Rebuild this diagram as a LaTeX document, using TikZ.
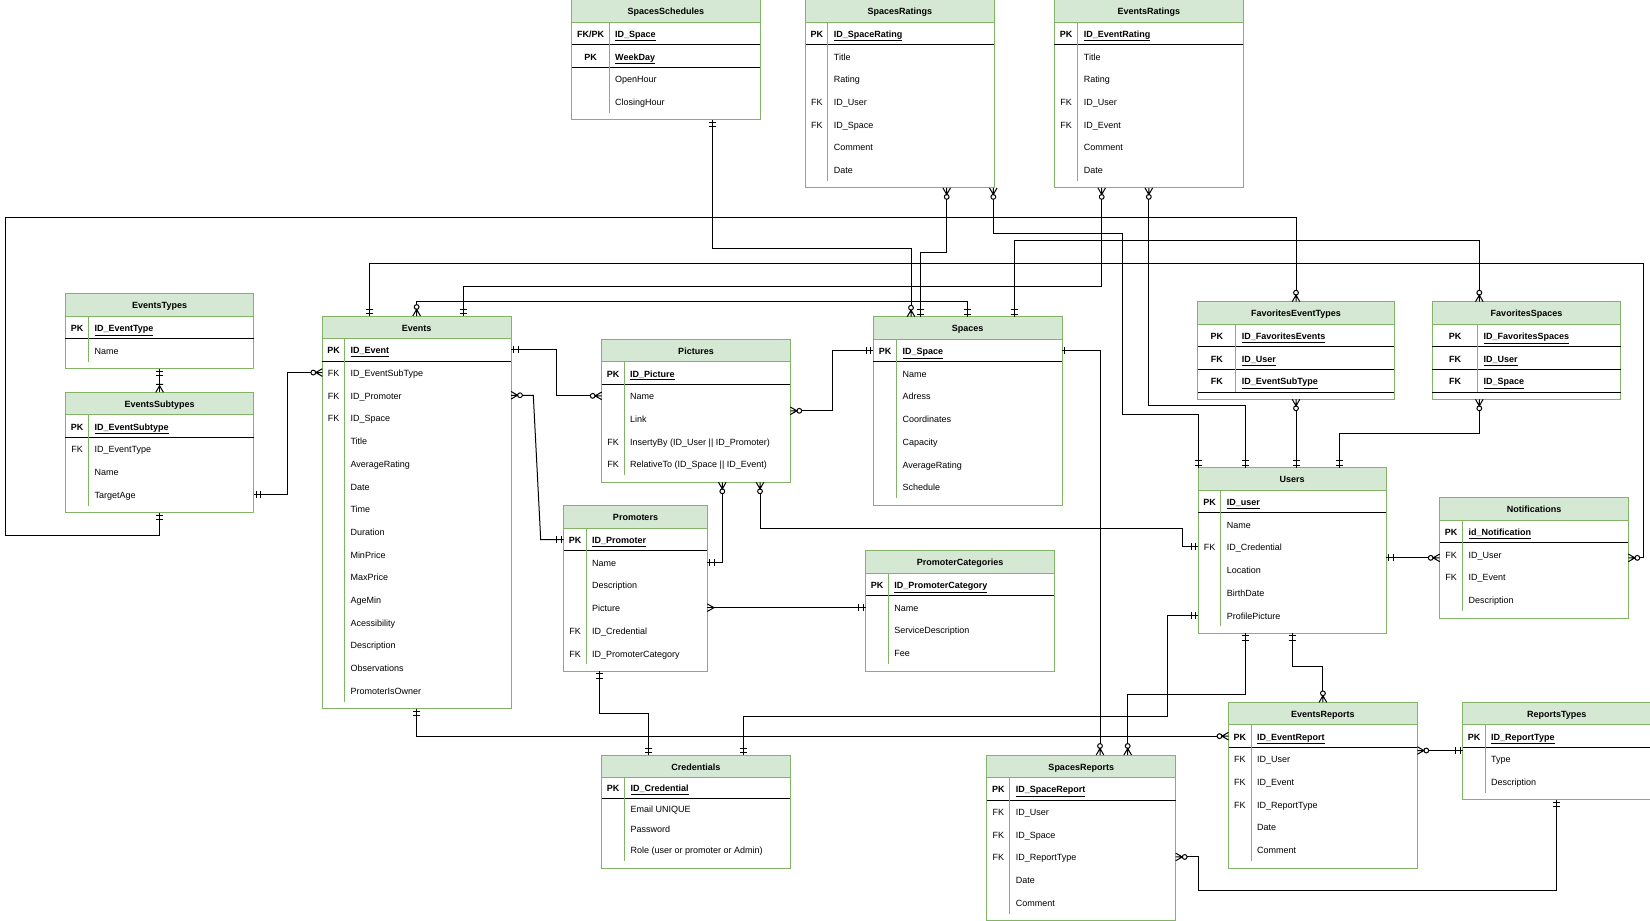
\documentclass[tikz,border=0pt]{standalone}
\usepackage{fontspec}
\setmainfont{Liberation Sans}

\definecolor{ergreen}{HTML}{82B366}
\definecolor{erfill}{HTML}{D5E8D4}

\pgfdeclarearrow{
	name = ERmand,
	parameters = {\the\pgflinewidth},
	setup code = {
		\pgfarrowssettipend{0pt}
		\pgfarrowssetlineend{0pt}
		\pgfarrowssetbackend{-8pt}
		\pgfarrowshullpoint{0pt}{4pt}
		\pgfarrowshullpoint{0pt}{-4pt}
		\pgfarrowshullpoint{-8pt}{4pt}
		\pgfarrowshullpoint{-8pt}{-4pt}
	},
	drawing code = {
		\pgfpathmoveto{\pgfqpoint{-2.5pt}{3.5pt}}
		\pgfpathlineto{\pgfqpoint{-2.5pt}{-3.5pt}}
		\pgfpathmoveto{\pgfqpoint{-7pt}{3.5pt}}
		\pgfpathlineto{\pgfqpoint{-7pt}{-3.5pt}}
		\pgfusepathqstroke
	}
}
\pgfdeclarearrow{
	name = ERone,
	parameters = {\the\pgflinewidth},
	setup code = {
		\pgfarrowssettipend{0pt}
		\pgfarrowssetlineend{0pt}
		\pgfarrowssetbackend{-4pt}
		\pgfarrowshullpoint{0pt}{4pt}
		\pgfarrowshullpoint{0pt}{-4pt}
		\pgfarrowshullpoint{-4pt}{4pt}
		\pgfarrowshullpoint{-4pt}{-4pt}
	},
	drawing code = {
		\pgfpathmoveto{\pgfqpoint{-2.2pt}{3.5pt}}
		\pgfpathlineto{\pgfqpoint{-2.2pt}{-3.5pt}}
		\pgfusepathqstroke
	}
}
\pgfdeclarearrow{
	name = ERzmany,
	parameters = {\the\pgflinewidth},
	setup code = {
		\pgfarrowssettipend{0pt}
		\pgfarrowssetlineend{-11.4pt}
		\pgfarrowssetbackend{-11.5pt}
		\pgfarrowshullpoint{0pt}{4pt}
		\pgfarrowshullpoint{0pt}{-4pt}
		\pgfarrowshullpoint{-11.5pt}{3pt}
		\pgfarrowshullpoint{-11.5pt}{-3pt}
	},
	drawing code = {
		\pgfpathmoveto{\pgfqpoint{0pt}{3.8pt}}
		\pgfpathlineto{\pgfqpoint{-6.6pt}{0pt}}
		\pgfpathlineto{\pgfqpoint{0pt}{-3.8pt}}
		\pgfpathmoveto{\pgfqpoint{0pt}{0pt}}
		\pgfpathlineto{\pgfqpoint{-6.6pt}{0pt}}
		\pgfpathcircle{\pgfqpoint{-9pt}{0pt}}{2.4pt}
		\pgfusepathqstroke
	}
}
\pgfdeclarearrow{
	name = ERmany,
	parameters = {\the\pgflinewidth},
	setup code = {
		\pgfarrowssettipend{0pt}
		\pgfarrowssetlineend{0pt}
		\pgfarrowssetbackend{-7pt}
		\pgfarrowshullpoint{0pt}{4pt}
		\pgfarrowshullpoint{0pt}{-4pt}
		\pgfarrowshullpoint{-7pt}{0pt}
	},
	drawing code = {
		\pgfpathmoveto{\pgfqpoint{0pt}{3.8pt}}
		\pgfpathlineto{\pgfqpoint{-6.6pt}{0pt}}
		\pgfpathlineto{\pgfqpoint{0pt}{-3.8pt}}
		\pgfusepathqstroke
	}
}
\pgfdeclarearrow{
	name = ERonemany,
	parameters = {\the\pgflinewidth},
	setup code = {
		\pgfarrowssettipend{0pt}
		\pgfarrowssetlineend{0pt}
		\pgfarrowssetbackend{-9pt}
		\pgfarrowshullpoint{0pt}{4pt}
		\pgfarrowshullpoint{0pt}{-4pt}
		\pgfarrowshullpoint{-9pt}{4pt}
		\pgfarrowshullpoint{-9pt}{-4pt}
	},
	drawing code = {
		\pgfpathmoveto{\pgfqpoint{0pt}{3.8pt}}
		\pgfpathlineto{\pgfqpoint{-6.6pt}{0pt}}
		\pgfpathlineto{\pgfqpoint{0pt}{-3.8pt}}
		\pgfpathmoveto{\pgfqpoint{-8pt}{3.5pt}}
		\pgfpathlineto{\pgfqpoint{-8pt}{-3.5pt}}
		\pgfusepathqstroke
	}
}

\tikzset{
	erbox/.style={draw=ergreen, fill=white, line width=1pt, anchor=north west, inner sep=0pt, outer sep=0pt},
	erhead/.style={draw=ergreen, fill=erfill, line width=1pt, anchor=north, inner sep=0pt, outer sep=0pt,
		minimum height=22.5pt, font=\fontsize{9}{10}\selectfont\bfseries, text height=8pt, text depth=0pt},
	errow/.style={anchor=north, inner sep=0pt, outer sep=0pt},
	erkey/.style={anchor=west, inner sep=0pt, font=\fontsize{9}{10}\selectfont, text height=8pt, text depth=0pt},
	erfield/.style={anchor=west, inner sep=0pt, font=\fontsize{9}{10}\selectfont, text height=8pt, text depth=0pt},
	erdiv/.style={draw=ergreen, line width=1pt},
	ersep/.style={draw=black, line width=1pt},
	erlink/.style={draw=black, line width=1pt}
}

\newcommand{\erkb}[1]{\textbf{#1}}
\newcommand{\erpk}[1]{\textbf{\underline{#1}}}

\newcommand{\ertable}[9]{%
	\node[erbox, minimum width=#4pt, minimum height=#5pt] (#1) at (#3) {};
	\node[erhead, minimum width=#4pt] (#1-0) at (#1.north) {#2};
	\foreach \k/\f [count=\i, remember=\i as \j (initially 0)] in {#8}{
		\node[errow, minimum width=#4pt, minimum height=#7pt] (#1-\i) at (#1-\j.south) {};
		\node[erkey, minimum width=#6pt] at (#1-\i.west) {\k};
		\node[erfield] at ([xshift=#6pt+6pt]#1-\i.west) {\f};
	}
	\foreach \s in {#9}
		\draw[ersep] (#1-\s.south west) -- (#1-\s.south east);
	\draw[erdiv] ([xshift=#6pt]#1-0.south west) -- ([xshift=#6pt, yshift=7pt]#1.south west);
}

\begin{document}
\begin{tikzpicture}[x=1pt, y=-1pt]
	\useasboundingbox[fill=white] (0,0) rectangle (1650,921);

	\ertable{sched}{SpacesSchedules}{571.7,-0.5}{188.3}{120.3}{37.3}{22.7}
		{\erkb{FK/PK}/\erpk{ID\_Space}, \erkb{PK}/\erpk{WeekDay}, /OpenHour, /ClosingHour}{1,2}
	\ertable{sprat}{SpacesRatings}{805.7,-0.5}{188.3}{188.4}{22}{22.7}
		{\erkb{PK}/\erpk{ID\_SpaceRating}, /Title, /Rating, FK/ID\_User, FK/ID\_Space, /Comment, /Date}{1}
	\ertable{evrat}{EventsRatings}{1054.3,-0.5}{189}{188.4}{23.4}{22.7}
		{\erkb{PK}/\erpk{ID\_EventRating}, /Title, /Rating, FK/ID\_User, FK/ID\_Event, /Comment, /Date}{1}
	\ertable{evtypes}{EventsTypes}{65.4,293.7}{188.4}{74.9}{23}{22.7}
		{\erkb{PK}/\erpk{ID\_EventType}, /Name}{1}
	\ertable{evsub}{EventsSubtypes}{65.4,392.3}{188.4}{120.3}{23}{22.7}
		{\erkb{PK}/\erpk{ID\_EventSubtype}, FK/ID\_EventType, /Name, /TargetAge}{1}
	\ertable{events}{Events}{322.3,316}{188.7}{392.7}{22}{22.7}
		{\erkb{PK}/\erpk{ID\_Event}, FK/ID\_EventSubType, FK/ID\_Promoter, FK/ID\_Space, /Title, /AverageRating,
		 /Date, /Time, /Duration, /MinPrice, /MaxPrice, /AgeMin, /Acessibility, /Description, /Observations, /PromoterIsOwner}{1}
	\ertable{pictures}{Pictures}{601.7,339.3}{188.6}{143}{22.3}{22.7}
		{\erkb{PK}/\erpk{ID\_Picture}, /Name, /Link, FK/InsertyBy (ID\_User || ID\_Promoter), FK/RelativeTo (ID\_Space || ID\_Event)}{1}
	\ertable{promoters}{Promoters}{563.7,505.7}{143.6}{165.7}{22.3}{22.7}
		{\erkb{PK}/\erpk{ID\_Promoter}, /Name, /Description, /Picture, FK/ID\_Credential, FK/ID\_PromoterCategory}{1}
	\ertable{spaces}{Spaces}{873.2,316.7}{188.8}{188.4}{23.2}{22.7}
		{\erkb{PK}/\erpk{ID\_Space}, /Name, /Adress, /Coordinates, /Capacity, /AverageRating, /Schedule}{1}
	\ertable{promcat}{PromoterCategories}{865.7,550.7}{188.7}{120.3}{22.5}{22.7}
		{\erkb{PK}/\erpk{ID\_PromoterCategory}, /Name, /ServiceDescription, /Fee}{1}
	\ertable{users}{Users}{1198.3,467.7}{187.7}{165.7}{22.4}{22.7}
		{\erkb{PK}/\erpk{ID\_user}, /Name, FK/ID\_Credential, /Location, /BirthDate, /ProfilePicture}{1}
	\ertable{favet}{FavoritesEventTypes}{1197.7,301.7}{196.6}{97.6}{38}{22.7}
		{\erkb{PK}/\erpk{ID\_FavoritesEvents}, \erkb{FK}/\erpk{ID\_User}, \erkb{FK}/\erpk{ID\_EventSubType}}{1,2,3}
	\ertable{favsp}{FavoritesSpaces}{1432.3,301.7}{188.4}{97.6}{45}{22.7}
		{\erkb{PK}/\erpk{ID\_FavoritesSpaces}, \erkb{FK}/\erpk{ID\_User}, \erkb{FK}/\erpk{ID\_Space}}{1,2,3}
	\ertable{notif}{Notifications}{1439.7,497.7}{188.6}{120.3}{22.6}{22.7}
		{\erkb{PK}/\erpk{id\_Notification}, FK/ID\_User, FK/ID\_Event, /Description}{1}
	\ertable{cred}{Credentials}{601.6,755}{188.7}{113.3}{22.8}{20.5}
		{\erkb{PK}/\erpk{ID\_Credential}, /Email UNIQUE, /Password, /Role (user or promoter or Admin)}{1}
	\ertable{spreports}{SpacesReports}{986.8,755}{188.9}{165.7}{22.9}{22.7}
		{\erkb{PK}/\erpk{ID\_SpaceReport}, FK/ID\_User, FK/ID\_Space, FK/ID\_ReportType, /Date, /Comment}{1}
	\ertable{evrep}{EventsReports}{1228.5,702.3}{188.8}{165.7}{22.5}{22.7}
		{\erkb{PK}/\erpk{ID\_EventReport}, FK/ID\_User, FK/ID\_Event, FK/ID\_ReportType, /Date, /Comment}{1}
	\ertable{reptypes}{ReportsTypes}{1462.6,702.3}{188.4}{97.6}{22.4}{22.7}
		{\erkb{PK}/\erpk{ID\_ReportType}, /Type, /Description}{1}

	\draw[erlink, {ERmand}-{ERonemany}] (evtypes.south) -- (evsub.north);
	\draw[erlink, {ERmand}-{ERzmany}] (evsub-4.east) -- ++(34,0) |- (events-2.west);
	\draw[erlink, {ERmand}-{ERzmany}] (evsub.south) -- ++(0,22.7) -| (5.5,217.7) -| (favet.north);
	\draw[erlink, {ERmand}-{ERzmany}] (events-1.east) -- ++(45,0) |- (pictures-2.west);
	\draw[erlink, {ERzmany}-{ERmand}] (events-3.east) -- ++(22.3,0) -- ([xshift=-23pt]promoters-1.west) -- (promoters-1.west);
	\draw[erlink, {ERmand}-{ERzmany}] ([xshift=47.2pt]events.north west) |- (1643.7,263.3) |- (notif.east);
	\draw[erlink, {ERzmany}-{ERmand}] (events.north) -- ++(0,-15) -| (spaces.north);
	\draw[erlink, {ERzmany}-{ERmand}] ([xshift=47.4pt]evrat.south west) -- ++(0,98.1) -| ([xshift=141.4pt]events.north west);
	\draw[erlink, {ERmand}-{ERzmany}] (events.south) |- (evrep-1.west);
	\draw[erlink, {ERzmany}-{ERmand}] (pictures.east) -- ++(41.7,0) |- (spaces-1.west);
	\draw[erlink, {ERzmany}-{ERmand}] ([xshift=120.6pt]pictures.south west) |- (promoters-2.east);
	\draw[erlink, {ERzmany}-{ERmand}] ([xshift=158.3pt]pictures.south west) |- (1182.9,528.3) |- (users-3.west);
	\draw[erlink, {ERmany}-{ERmand}] (promoters-4.east) -- (promoters-4.east -| promcat.west);
	\draw[erlink, {ERmand}-{ERmand}] ([xshift=35.8pt]promoters.south west) -- ++(0,42) -| ([xshift=47.2pt]cred.north west);
	\draw[erlink, {ERmand}-{ERmand}] ([xshift=141.4pt]cred.north west) |- (1167.9,716.7) |- (users-6.west);
	\draw[erlink, {ERone}-{ERzmany}] (spaces-1.east) -| ([xshift=113.2pt]spreports.north west);
	\draw[erlink, {ERmand}-{ERzmany}] ([xshift=141pt]sched.south west) -- ++(0,128.9) -| ([xshift=37.8pt]spaces.north west);
	\draw[erlink, {ERzmany}-{ERmand}] ([xshift=141pt]sprat.south west) -- ++(0,64.4) -| ([xshift=47.5pt]spaces.north west);
	\draw[erlink, {ERzmany}-{ERmand}] ([xshift=187.6pt]sprat.south west) -- ++(0,45.1) -| (1122.3,414.7) -| ([xshift=0.5pt]users.north west);
	\draw[erlink, {ERzmany}-{ERmand}] (evrat.south) -- ++(0,217.4) -| ([xshift=46.7pt]users.north west);
	\draw[erlink, {ERmand}-{ERzmany}] ([xshift=141.6pt]spaces.north west) -- ++(0,-76) -| ([xshift=47pt]favsp.north west);
	\draw[erlink, {ERzmany}-{ERmand}] (favet.south) -- (favet.south |- users.north);
	\draw[erlink, {ERzmany}-{ERmand}] ([xshift=47pt]favsp.south west) -- ++(0,34) -| ([xshift=140.7pt]users.north west);
	\draw[erlink, {ERmand}-{ERzmany}] (users.east |- notif.west) -- (notif.west);
	\draw[erlink, {ERmand}-{ERzmany}] ([xshift=46.7pt]users.south west) -- ++(0,60.9) -| ([xshift=140.9pt]spreports.north west);
	\draw[erlink, {ERmand}-{ERzmany}] (users.south) -- ++(0,33) -| (evrep.north);
	\draw[erlink, {ERzmany}-{ERmand}] ([yshift=-3pt]evrep-1.south east) -- ([yshift=-3pt]reptypes-1.south west);
	\draw[erlink, {ERzmany}-{ERmand}] (spreports-4.east) -- ++(22.4,0) -- ++(0,33.75) -| (reptypes.south);
\end{tikzpicture}
\end{document}
